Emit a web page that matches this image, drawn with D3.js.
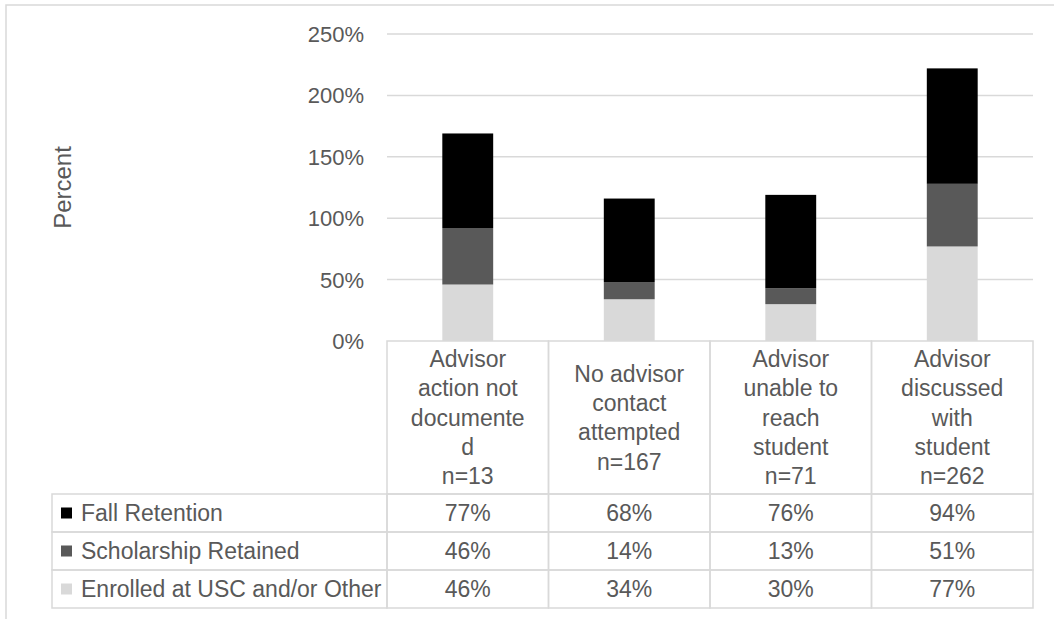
<!DOCTYPE html>
<html>
<head>
<meta charset="utf-8">
<script src="https://cdn.jsdelivr.net/npm/d3@7"></script>
<style>
  body { margin: 0; background: #fff; }
  svg { display: block; font-family: "Liberation Sans", Arial, sans-serif; }
  text { fill: #595959; }
</style>
</head>
<body>
<svg></svg>
<script>
var categories = ['action_not_documented', 'no_contact', 'unable_to_reach', 'discussed'];
var categoryLines = [
  ['Advisor', 'action not', 'documente', 'd', 'n=13'],
  ['No advisor', 'contact', 'attempted', 'n=167'],
  ['Advisor', 'unable to', 'reach', 'student', 'n=71'],
  ['Advisor', 'discussed', 'with', 'student', 'n=262']
];
var fallRetention = [0.77, 0.68, 0.76, 0.94];
var scholarshipRetained = [0.46, 0.14, 0.13, 0.51];
var enrolledOther = [0.46, 0.34, 0.30, 0.77];
var seriesNames = ['Fall Retention', 'Scholarship Retained', 'Enrolled at USC and/or Other'];
var seriesColors = ['#000000', '#595959', '#d9d9d9'];
var yTicks = [0, 0.5, 1, 1.5, 2, 2.5];

(function(window, d3) {

	var w = 1054, h = 619;
	var svg = d3.select('svg').attr('width', w).attr('height', h);

	var rows = categories.map(function(c, i) {
		return { cat: c, enrolled: enrolledOther[i], scholarship: scholarshipRetained[i], fall: fallRetention[i] };
	});
	var keys = ['enrolled', 'scholarship', 'fall'];
	var keyColor = { fall: seriesColors[0], scholarship: seriesColors[1], enrolled: seriesColors[2] };
	var keyValues = [fallRetention, scholarshipRetained, enrolledOther];

	var x = d3.scaleBand().domain(categories).range([387, 1033]);
	var y = d3.scaleLinear().domain([0, 2.5]).range([341, 34]);
	var rowY = d3.scaleBand().domain(seriesNames).range([494, 608]);
	var fmt = d3.format('.0%');
	var grid = '#d9d9d9';
	var fs = '23px';

	// outer chart border
	svg.append('rect').attr('x', 6).attr('y', 5).attr('width', 1100).attr('height', 700)
		.attr('fill', 'none').attr('stroke', grid).attr('stroke-width', 1.5);

	// gridlines
	svg.append('g').selectAll('line').data(yTicks.slice(1)).enter().append('line')
		.attr('x1', 387).attr('x2', 1033)
		.attr('y1', function(d) { return y(d); }).attr('y2', function(d) { return y(d); })
		.attr('stroke', grid).attr('stroke-width', 1.5);

	// y tick labels
	svg.append('g').selectAll('text').data(yTicks).enter().append('text')
		.attr('x', 364).attr('y', function(d) { return y(d); })
		.attr('dy', '0.36em').attr('text-anchor', 'end')
		.style('font-size', '22px')
		.text(function(d) { return fmt(d); });

	svg.append('text')
		.attr('transform', 'translate(71,' + ((y(0) + y(2.5)) / 2) + ') rotate(-90)')
		.attr('text-anchor', 'middle').style('font-size', '24px')
		.text('Percent');

	// stacked bars
	var stack = d3.stack().keys(keys)(rows);
	var bw = x.bandwidth() * 0.315;
	svg.append('g').selectAll('g').data(stack).enter().append('g')
		.attr('fill', function(s) { return keyColor[s.key]; })
		.selectAll('rect').data(function(s) { return s; }).enter().append('rect')
			.attr('x', function(d) { return x(d.data.cat) + (x.bandwidth() - bw) / 2; })
			.attr('width', bw)
			.attr('y', function(d) { return y(d[1]); })
			.attr('height', function(d) { return y(d[0]) - y(d[1]); });

	// data table
	var table = svg.append('g').attr('fill', 'none').attr('stroke', grid).attr('stroke-width', 1.5);
	categories.forEach(function(c) {
		table.append('rect').attr('x', x(c)).attr('y', y(0))
			.attr('width', x.bandwidth()).attr('height', rowY.range()[0] - y(0));
	});
	seriesNames.forEach(function(s) {
		table.append('rect').attr('x', 52).attr('y', rowY(s))
			.attr('width', 387 - 52).attr('height', rowY.bandwidth());
		categories.forEach(function(c) {
			table.append('rect').attr('x', x(c)).attr('y', rowY(s))
				.attr('width', x.bandwidth()).attr('height', rowY.bandwidth());
		});
	});

	// header labels
	var lh = 29.3;
	var headMid = (y(0) + rowY.range()[0]) / 2;
	categories.forEach(function(c, i) {
		var lines = categoryLines[i];
		var t = svg.append('text').attr('text-anchor', 'middle').style('font-size', fs);
		lines.forEach(function(l, j) {
			t.append('tspan').attr('x', x(c) + x.bandwidth() / 2)
				.attr('y', headMid + (j - (lines.length - 1) / 2) * lh)
				.attr('dy', '0.36em').text(l);
		});
	});

	// legend keys + values
	seriesNames.forEach(function(s, i) {
		var cy = rowY(s) + rowY.bandwidth() / 2;
		svg.append('rect').attr('x', 61).attr('y', cy - 5.5).attr('width', 11).attr('height', 11)
			.attr('fill', seriesColors[i]);
		svg.append('text').attr('x', 81).attr('y', cy).attr('dy', '0.36em')
			.style('font-size', fs).text(s);
		svg.append('g').selectAll('text').data(keyValues[i]).enter().append('text')
			.attr('x', function(d, k) { return x(categories[k]) + x.bandwidth() / 2; })
			.attr('y', cy).attr('dy', '0.36em').attr('text-anchor', 'middle')
			.style('font-size', fs)
			.text(function(d) { return fmt(d); });
	});

})(window, d3);
</script>
</body>
</html>
